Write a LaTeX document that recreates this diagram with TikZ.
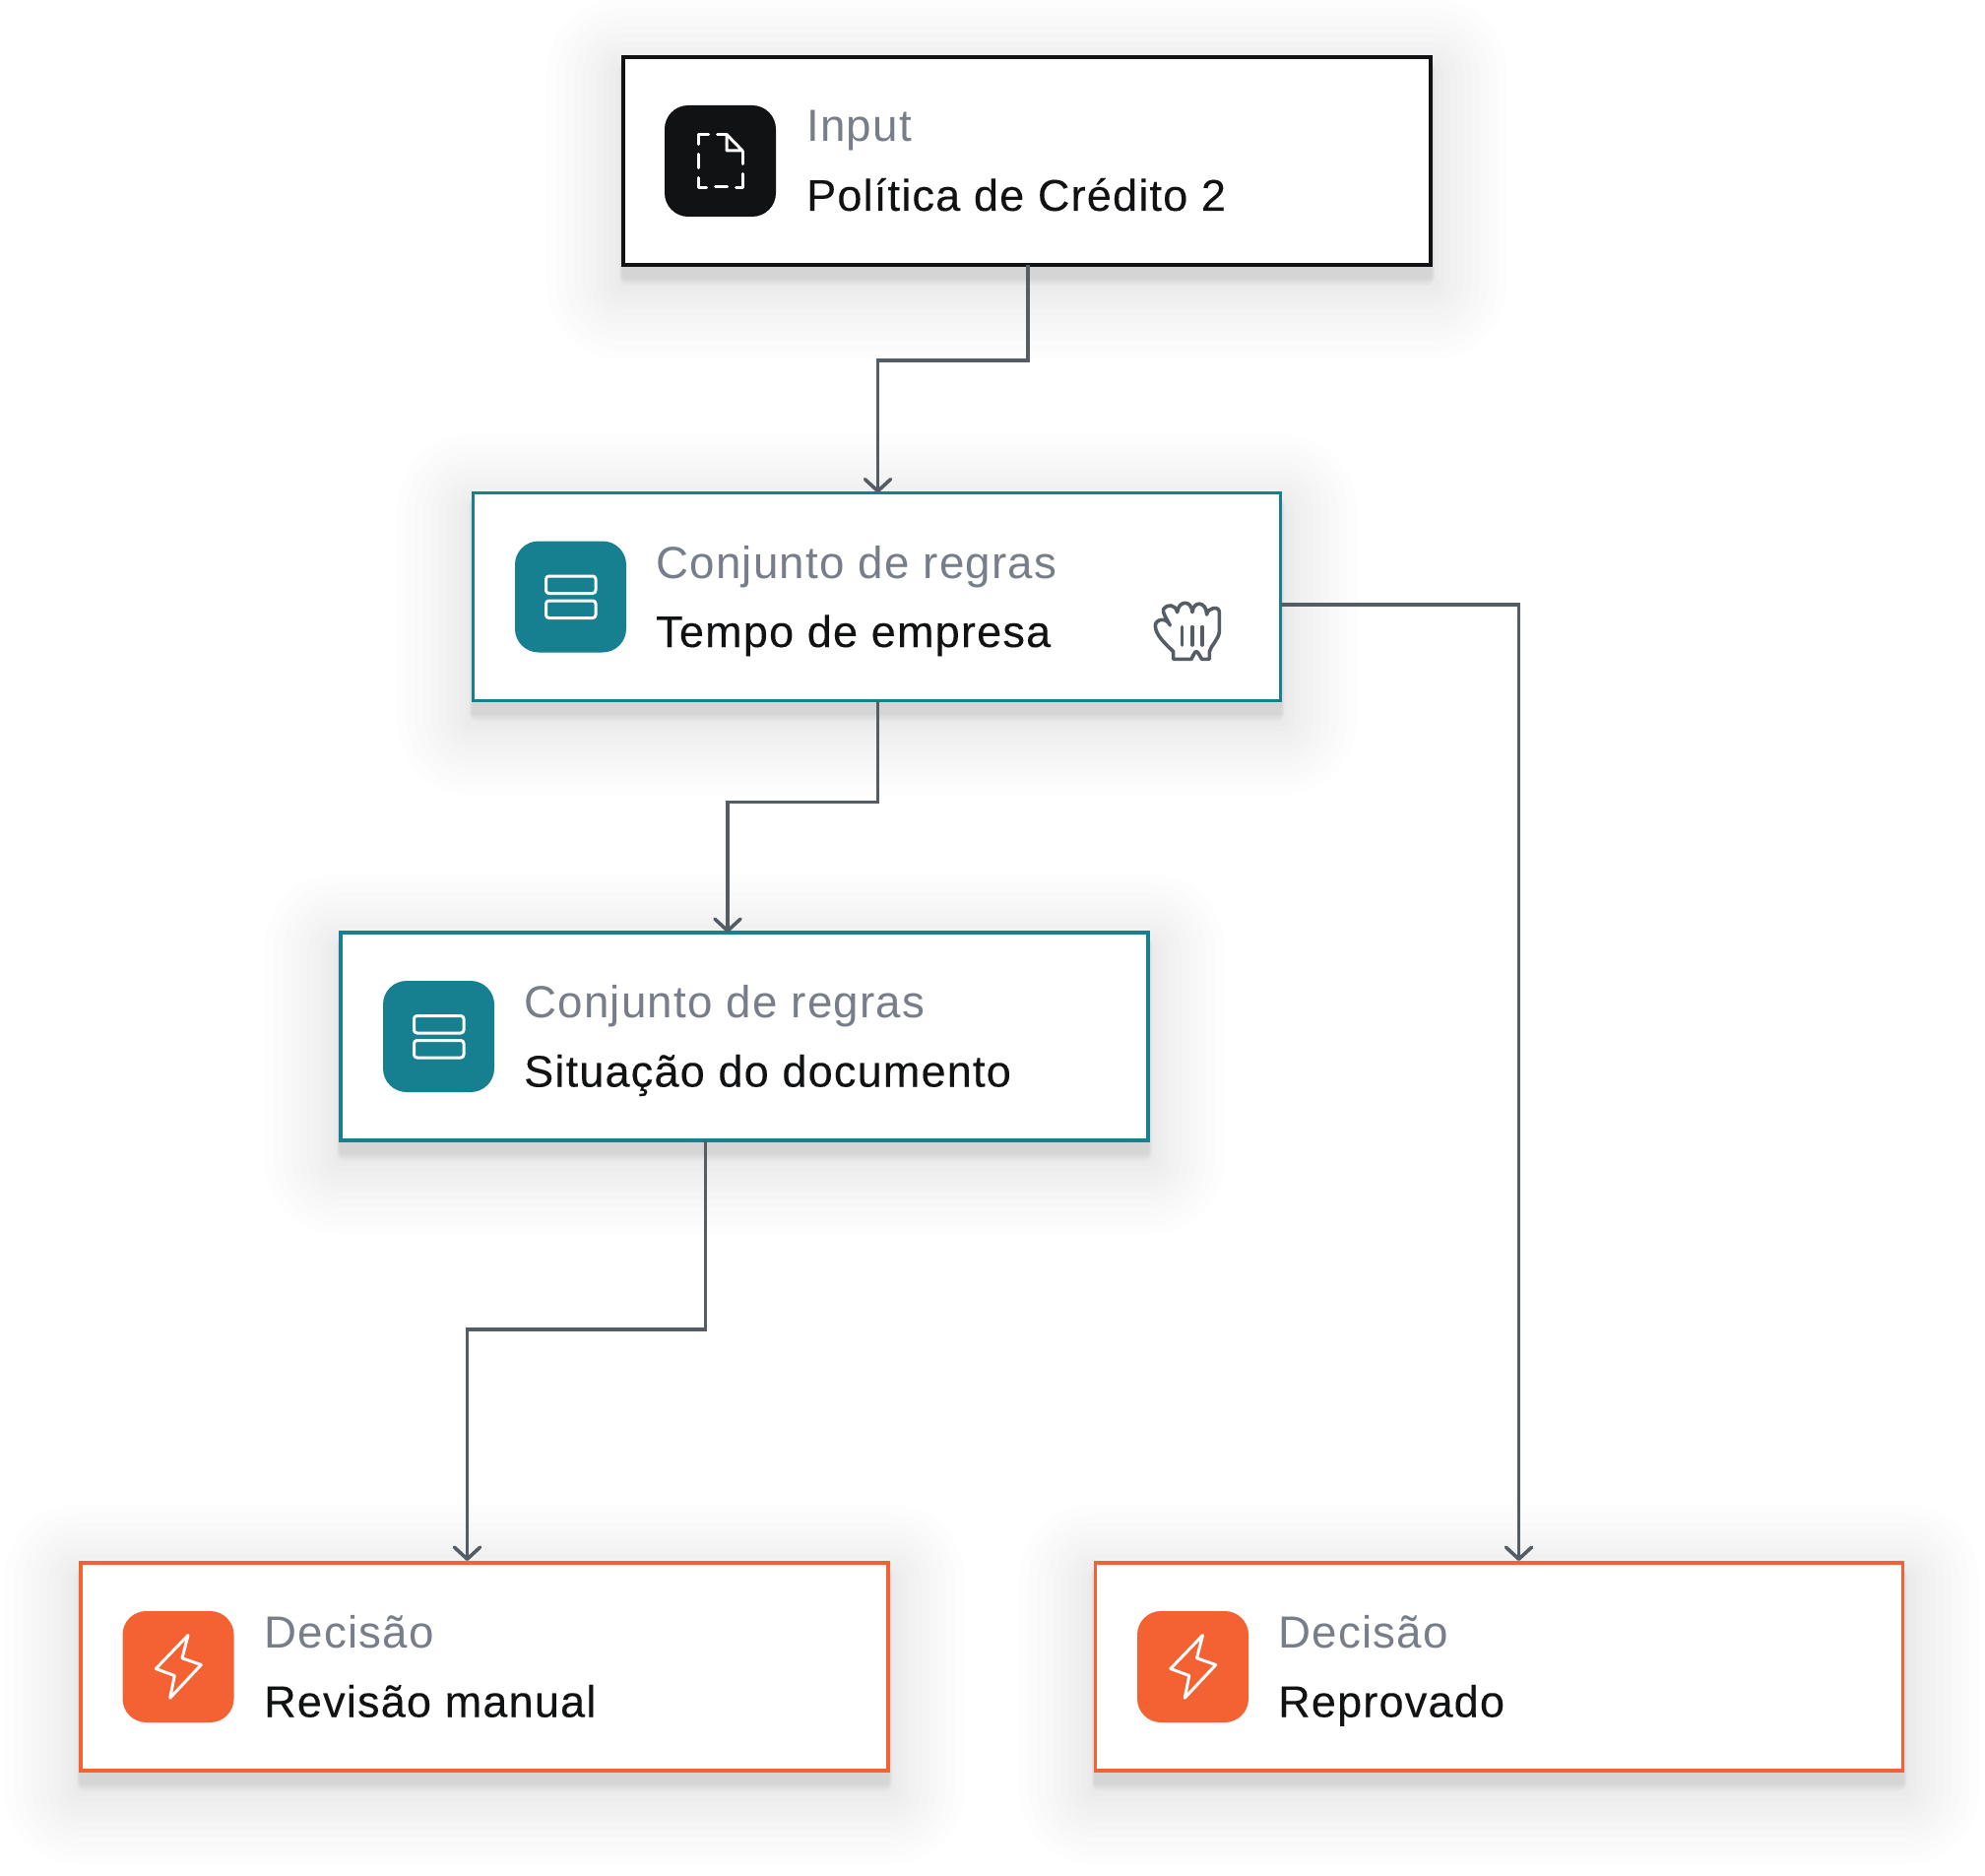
\documentclass[tikz,border=0pt]{standalone}
\usepackage{fontspec}
\usepackage{xcolor}
\setmainfont{Liberation Sans}[LetterSpace=2.7]
\newfontfamily\titlefont{Liberation Sans}[LetterSpace=2.7, FakeBold=0.15]
\usetikzlibrary{positioning, arrows.meta, backgrounds}

\definecolor{inkblack}{HTML}{111213}
\definecolor{ruleteal}{HTML}{178090}
\definecolor{decisionorange}{HTML}{F46234}
\definecolor{labelgray}{HTML}{777E8A}
\definecolor{linegray}{HTML}{545C66}

\tikzset{
  card/.style={draw, fill=white, line width=3.5pt, minimum width=820pt, minimum height=211pt, inner sep=0pt, outer sep=0pt},
  iconbox/.style={rounded corners=24pt, minimum size=113pt, inner sep=0pt, outer sep=0pt},
  kindtext/.style={anchor=base west, inner sep=0pt, text=labelgray, font=\fontsize{45.7}{54}\selectfont},
  titletext/.style={anchor=base west, inner sep=0pt, text=inkblack, font=\titlefont\fontsize{45}{54}\selectfont},
  conn/.style={draw=linegray, line width=3.6pt, -{Straight Barb[length=12pt, width=26pt, line width=3.6pt, round]}},
  glyph/.style={draw=white, line width=3pt, line cap=round, line join=round},
}

\begin{document}
\begin{tikzpicture}[x=1pt, y=-1pt]
\useasboundingbox (0,0) rectangle (2016,1905);

\node[card, draw=inkblack, line width=4pt] (input) at (1043,163.5) {};
\node[card, draw=ruleteal] (tempo) at (890.5,606) {};
\node[card, draw=ruleteal] (situacao) at (756,1052.5) {};
\node[card, draw=decisionorange] (revisao) at (492,1692.5) {};
\node[card, draw=decisionorange] (reprovado) at (1522.5,1692.5) {};

\begin{scope}[on background layer]
\foreach \n in {input,tempo,situacao,revisao,reprovado} {
  \foreach \r in {78,68,59,50,42,34,27,20,14,8,3} {
    \fill[black, opacity=0.006, rounded corners=\r pt]
      ([shift={(-\r,-\r+18)}]\n.north west) rectangle ([shift={(\r,\r+18)}]\n.south east);
  }
  \foreach \r in {8,6,4,2} {
    \fill[black, opacity=0.022, rounded corners=\r pt]
      ([shift={(-\r/2,-\r+12)}]\n.north west) rectangle ([shift={(\r/2,\r+12)}]\n.south east);
  }
}
\end{scope}

\node[iconbox, fill=inkblack] (inputicon) at (731.5,163.5) {};
\node[iconbox, fill=ruleteal] (tempoicon) at (579.5,606) {};
\node[iconbox, fill=ruleteal] (situacaoicon) at (445.5,1052.5) {};
\node[iconbox, fill=decisionorange] (revisaoicon) at (181,1692.5) {};
\node[iconbox, fill=decisionorange] (reprovadoicon) at (1211.5,1692.5) {};

\node[kindtext] (inputkind) at (819,144) {Input};
\node[titletext] (inputtitle) at (819,214) {Política de Crédito 2};
\node[kindtext] (tempokind) at (666,587) {Conjunto de regras};
\node[titletext] (tempotitle) at (666,657) {Tempo de empresa};
\node[kindtext] (situacaokind) at (532,1033.5) {Conjunto de regras};
\node[titletext] (situacaotitle) at (532,1103.5) {Situação do documento};
\node[kindtext] (revisaokind) at (268,1673.5) {Decisão};
\node[titletext] (revisaotitle) at (268,1743.5) {Revisão manual};
\node[kindtext] (reprovadokind) at (1298,1673.5) {Decisão};
\node[titletext] (reprovadotitle) at (1298,1743.5) {Reprovado};

\begin{scope}[shift={(inputicon.center)}, glyph]
\draw (-12,-27) -- (-22,-27) -- (-22,-17);
\draw (-22,-7) -- (-22,7);
\draw (-22,17) -- (-22,27) -- (-14,27);
\draw (-5,26.5) -- (7,26.5);
\draw (16,27) -- (22.5,27) -- (22.5,13);
\draw (22.5,3) -- (22.5,-10);
\draw (-3,-27) -- (6.5,-27);
\draw (6.5,-27) -- (22.5,-10.5) -- (6.5,-10.5) -- cycle;
\end{scope}

\foreach \n in {tempoicon,situacaoicon} {
  \draw[glyph, rounded corners=3pt] ([shift={(-25,-21)}]\n.center) rectangle ([shift={(25.5,-3.5)}]\n.center);
  \draw[glyph, rounded corners=3pt] ([shift={(-25,4)}]\n.center) rectangle ([shift={(25.5,21.5)}]\n.center);
}

\foreach \n in {revisaoicon,reprovadoicon} {
  \draw[glyph] ([shift={(10,-32)}]\n.center) -- ([shift={(4,-8.7)}]\n.center) -- ([shift={(23.3,-2)}]\n.center)
    -- ([shift={(-8.3,31.7)}]\n.center) -- ([shift={(-3.7,9)}]\n.center) -- ([shift={(-22.7,2)}]\n.center) -- cycle;
}

\begin{scope}[shift={(1130,560)}, x=0.3333pt, y=-0.3333pt, draw=linegray, line width=3.6pt, line join=round, line cap=round]
\draw (185,328) -- (185,305) .. controls (160,280) and (130,255) .. (130,225)
  .. controls (132,205) and (165,200) .. (175,225)
  .. controls (165,205) and (150,185) .. (155,175)
  .. controls (165,160) and (192,160) .. (197,185)
  .. controls (200,150) and (240,145) .. (243,185)
  .. controls (245,150) and (285,150) .. (287,192)
  .. controls (290,170) and (325,165) .. (325,185)
  -- (325,245) .. controls (322,270) and (300,285) .. (295,305) -- (295,328) -- (272,328)
  .. controls (265,318) and (260,305) .. (255,305)
  .. controls (250,305) and (245,318) .. (240,328) -- cycle;
\draw (212,230) -- (212,285);
\draw (243,230) -- (243,285);
\draw (273,230) -- (273,285);
\end{scope}

\draw[conn] ([xshift=1pt]input.south) -- ++(0,97) -| ([xshift=1pt]tempo.north);
\draw[conn] ([xshift=1pt]tempo.south) -- ++(0,103) -| ([xshift=-17pt]situacao.north);
\draw[conn, shorten >=2pt] ([xshift=-39.5pt]situacao.south) -- ++(0,192) -| ([xshift=-17.5pt]revisao.north);
\draw[conn, shorten >=2pt] ([yshift=-8pt]tempo.east) -| ([xshift=20pt]reprovado.north);
\end{tikzpicture}
\end{document}
